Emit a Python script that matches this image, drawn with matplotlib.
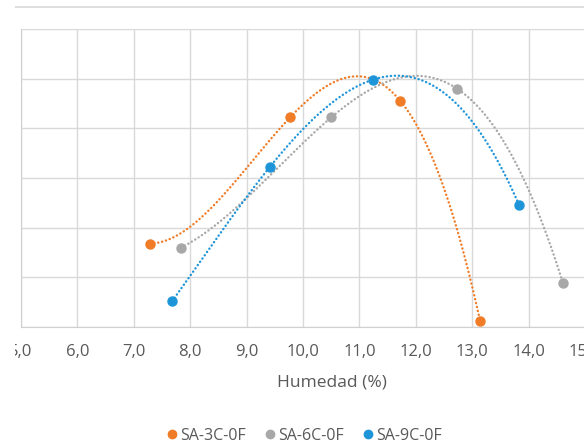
import numpy as np
import matplotlib.pyplot as plt
from matplotlib.lines import Line2D
from matplotlib.patches import Rectangle

# Datos (humedad % vs densidad seca, eje y sin rotulos)
hum_3c = [7.29, 9.77, 11.72, 13.14]
dens_3c = [1.634, 1.761, 1.778, 1.556]

hum_6c = [7.84, 10.50, 12.73, 14.61]
dens_6c = [1.630, 1.761, 1.790, 1.594]

hum_9c = [7.68, 9.41, 11.24, 13.83]
dens_9c = [1.576, 1.711, 1.799, 1.673]

series = ["SA-3C-0F", "SA-6C-0F", "SA-9C-0F"]
colores = ["#F07C28", "#A8A8A8", "#1E95D9"]
x_ticks = [5, 6, 7, 8, 9, 10, 11, 12, 13, 14, 15]
y_grid = [1.55, 1.60, 1.65, 1.70, 1.75, 1.80, 1.85]

plt.rcParams["font.family"] = ["Open Sans", "DejaVu Sans"]

fig = plt.figure(figsize=(5.84, 4.47), dpi=100)
ax = fig.add_axes([21 / 584, 120 / 447, 564 / 584, 298 / 447])

datos = [(hum_3c, dens_3c), (hum_6c, dens_6c), (hum_9c, dens_9c)]
for (x, y), nombre, c in zip(datos, series, colores):
    # linea de tendencia polinomica de orden 3 (como en Excel)
    coef = np.polyfit(x, y, 3)
    xs = np.linspace(min(x), max(x), 300)
    ax.plot(xs, np.polyval(coef, xs), color=c, lw=1.7,
            linestyle=(0, (0.1, 1.6)), dash_capstyle="round", zorder=3)
    ax.plot(x, y, "o", color=c, ms=6.5, mec=c, label=nombre, zorder=4)

ax.set_xlim(5, 15)
ax.set_ylim(1.55, 1.85)
ax.set_xticks(x_ticks)
ax.set_xticklabels([f"{v:.1f}".replace(".", ",") for v in x_ticks])
ax.set_yticks(y_grid)
ax.set_yticklabels([])
ax.tick_params(length=0, colors="#595959", labelsize=12, pad=12)
ax.grid(True, color="#D9D9D9", lw=1.0)
ax.set_axisbelow(True)

for lado in ["top", "right"]:
    ax.spines[lado].set_visible(False)
ax.spines["left"].set_color("#D0D0D0")
ax.spines["bottom"].set_color("#D0D0D0")

ax.set_xlabel("Humedad (%)", fontsize=12.5, color="#595959")
ax.xaxis.set_label_coords((332 - 21) / 564, -0.161)

handles = [Line2D([], [], marker="o", ls="", color=c, ms=6) for c in colores]
fig.legend(handles, series, loc="center", ncol=3, frameon=False,
           bbox_to_anchor=(303 / 584, 1 - 436 / 447), fontsize=11.5,
           labelcolor="#595959", handletextpad=0.0, columnspacing=1.0,
           handlelength=1.0, borderpad=0.2)

# linea superior del area del grafico
fig.add_artist(Line2D([15 / 584, 1], [1 - 7 / 447, 1 - 7 / 447],
                      color="#D9D9D9", lw=1.2))
# borde izquierdo recortado (la imagen original esta cortada)
fig.add_artist(Rectangle((0, 0), 15 / 584, 1, transform=fig.transFigure,
                         facecolor="white", edgecolor="none", zorder=10))

plt.savefig("out.png", dpi=100)
